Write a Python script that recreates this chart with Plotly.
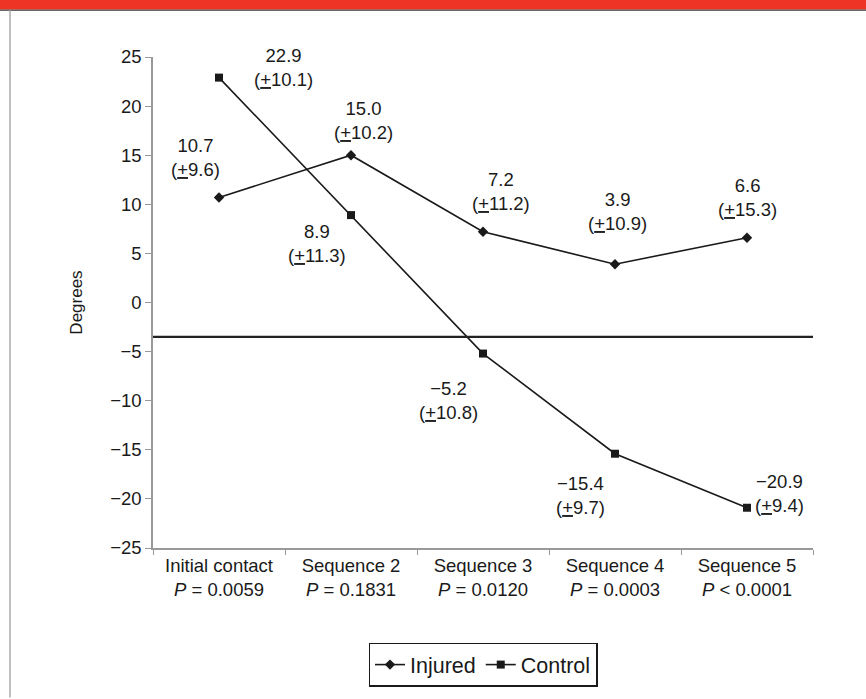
import plotly.graph_objects as go

categories = ["Initial contact", "Sequence 2", "Sequence 3", "Sequence 4", "Sequence 5"]
p_labels = ["<i>P</i> = 0.0059", "<i>P</i> = 0.1831", "<i>P</i> = 0.0120", "<i>P</i> = 0.0003", "<i>P</i> < 0.0001"]
injured_mean = [10.7, 15.0, 7.2, 3.9, 6.6]
injured_sd = [9.6, 10.2, 11.2, 10.9, 15.3]
control_mean = [22.9, 8.9, -5.2, -15.4, -20.9]
control_sd = [10.1, 11.3, 10.8, 9.7, 9.4]
reference_line = -3.5
y_ticks = [-25, -20, -15, -10, -5, 0, 5, 10, 15, 20, 25]

FONT = "Liberation Sans, Arial, sans-serif"
FS = 18.5

# label offsets (pixels) relative to each point
inj_shift = [(-24, 40), (12, 35), (18, 40), (2, 53), (0, 40)]
ctl_shift = [(64, 10), (-34, -28), (-35, -47), (-35, -42), (32, 14)]

def fmt(v):
    s = f"{abs(v):.1f}"
    return ("\u2212" + s) if v < 0 else s

fig = go.Figure()
fig.add_trace(go.Scatter(
    x=categories, y=injured_mean, name="Injured", mode="lines+markers",
    line=dict(color="#1a1a1a", width=1.6),
    marker=dict(symbol="diamond", size=8, color="#1a1a1a"),
))
fig.add_trace(go.Scatter(
    x=categories, y=control_mean, name="Control", mode="lines+markers",
    line=dict(color="#1a1a1a", width=1.6),
    marker=dict(symbol="square", size=8, color="#1a1a1a"),
))

annotations = []
for i, c in enumerate(categories):
    for mean, sd, sh in ((injured_mean[i], injured_sd[i], inj_shift[i]),
                         (control_mean[i], control_sd[i], ctl_shift[i])):
        annotations.append(dict(
            x=c, y=mean, xref="x", yref="y",
            text=f"{fmt(mean)}<br>(<u>+</u>{sd:.1f})",
            showarrow=False, xshift=sh[0], yshift=sh[1],
            font=dict(family=FONT, size=FS, color="#1a1a1a"),
            align="center",
        ))

# plot area geometry in pixels (for frame decorations)
L, R, T, B = 153, 813, 57, 550
W, H = R - L, B - T
def px(x):
    return (x - L) / W
def py(y):
    return (B - y) / H

shapes = [
    dict(type="line", xref="paper", yref="y", x0=0, x1=1, y0=reference_line, y1=reference_line,
         line=dict(color="#222222", width=2.2)),
    dict(type="rect", xref="paper", yref="paper", x0=px(0), x1=px(866), y0=py(9.5), y1=py(-2),
         fillcolor="#EE3424", line=dict(width=0), layer="above"),
    dict(type="line", xref="paper", yref="paper", x0=px(0), x1=px(866), y0=py(10), y1=py(10),
         line=dict(color="#666666", width=1.5)),
    dict(type="line", xref="paper", yref="paper", x0=px(10), x1=px(10), y0=py(10), y1=py(700),
         line=dict(color="#aaaaaa", width=1.5)),
]

fig.update_layout(
    width=866, height=699,
    margin=dict(l=L, r=866 - R, t=T, b=699 - B),
    paper_bgcolor="white", plot_bgcolor="white",
    font=dict(family=FONT, size=FS, color="#1a1a1a"),
    showlegend=True,
    legend=dict(orientation="h", x=0.5, xanchor="center", y=py(645), yanchor="top",
                bordercolor="#1a1a1a", borderwidth=1.5, bgcolor="white",
                font=dict(family=FONT, size=21.5, color="#1a1a1a"),
                itemwidth=30, tracegroupgap=0),
    xaxis=dict(
        type="category", range=[-0.5, 4.5],
        tickmode="array", tickvals=categories,
        ticktext=[f"{c}<br>{p}" for c, p in zip(categories, p_labels)],
        tickson="boundaries", ticks="outside", ticklen=5, tickcolor="#999999", tickwidth=1.3,
        showline=True, linecolor="#999999", linewidth=1.5,
        showgrid=False, zeroline=False,
        tickfont=dict(family=FONT, size=FS, color="#1a1a1a"),
    ),
    yaxis=dict(
        range=[-25, 25], tickmode="array", tickvals=y_ticks,
        ticks="outside", ticklen=6, tickcolor="#999999", tickwidth=1.3,
        showline=True, linecolor="#999999", linewidth=1.5,
        showgrid=False, zeroline=False,
        title=dict(text="Degrees", font=dict(family=FONT, size=17, color="#1a1a1a"), standoff=23),
        tickfont=dict(family=FONT, size=FS, color="#1a1a1a"),
    ),
    annotations=annotations,
    shapes=shapes,
)

fig.write_html("out.html",
               config={"displayModeBar": False},
               post_script="document.body.style.margin='0';document.body.style.overflow='hidden';")
